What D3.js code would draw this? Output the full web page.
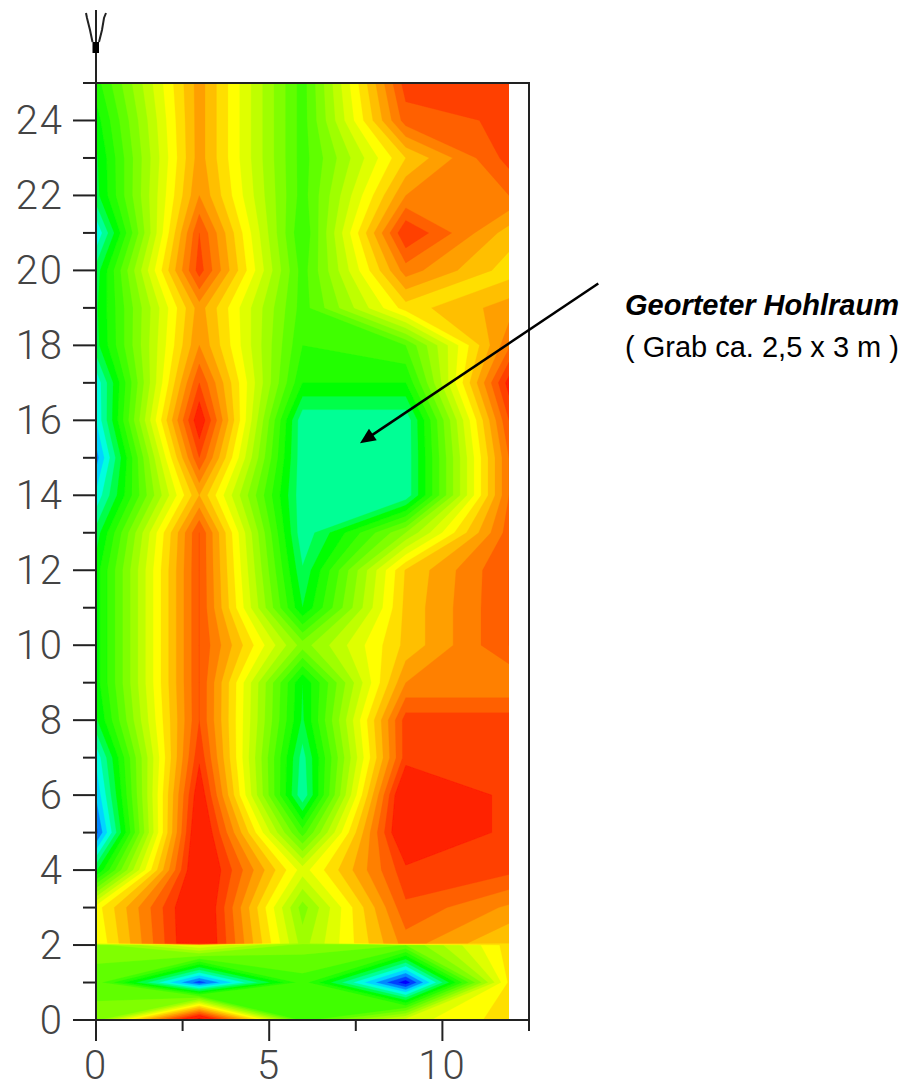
<!DOCTYPE html>
<html>
<head>
    <meta charset="UTF-8">
    <title>Georteter Hohlraum</title>
    <style>
        html, body { margin: 0; padding: 0; background: #fff; }
        svg { display: block; }
    </style>
</head>
<body>
    <svg width="912" height="1089"></svg>
    <script src="https://d3js.org/d3.v7.min.js"></script>
    <script>
// grid positions in metres
var colsX = [0, 3, 6, 9, 12];
var rowsY = [0, 1, 2, 2.05, 3, 4, 5, 6, 7, 8, 9, 10, 11, 12, 13, 14, 15, 16, 17, 18, 19, 20, 21, 22, 23, 24, 25];

// readings per profile column, bottom row first
var col0 = [20.5, 19.5, 20.5, 24, 24.5, 15.8, 10.6, 12.1, 13.2, 15.8, 16.5, 16.5, 16.5, 16.5, 15.4, 13.2, 11.5, 13, 13.2, 15.6, 15.8, 15.4, 13, 15.6, 15.8, 16.5, 17.5];
var col3 = [34, 10.4, 24, 33, 33, 33, 32.8, 32, 30.8, 30, 30, 30, 30, 30, 30, 27, 30, 32, 30, 28, 27.5, 30.5, 30, 28, 27.5, 27.5, 27.5];
var col6 = [18.5, 18.5, 20.5, 21.5, 20.5, 23.5, 18.5, 14.1, 14.5, 15.8, 16, 20.5, 16, 15.1, 14.2, 14.2, 14.2, 14.2, 17, 18, 18.5, 18.5, 18, 18.5, 18.5, 18.5, 18.5];
var col9 = [23.5, 9.3, 20, 28.5, 29.8, 30.7, 33, 33, 30.5, 30.5, 28, 26.3, 26.3, 26.1, 21, 14.2, 14.2, 14.2, 17, 19, 25.5, 28.5, 31, 28, 26, 29.5, 30.5];
var col12 = [25.5, 25.2, 25.5, 26, 27.8, 30.3, 30.6, 30.6, 30.5, 30.5, 28, 30, 30, 30, 29.5, 29, 29, 30, 31.5, 28.8, 27.5, 25.5, 26.5, 29, 30.4, 30.2, 30.2];

// axes
var yTicks = [2, 4, 6, 8, 10, 12, 14, 16, 18, 20, 22, 24, 0];
var yMinor = [1, 3, 5, 7, 9, 11, 13, 15, 17, 19, 21, 23, 25];
var xTicks = [0, 5, 10];
var xMinor = [2.5, 7.5, 12.5];

var svg = d3.select("svg");

var x = d3.scaleLinear().domain([0, 12.5]).range([96, 529]);
var xData = d3.scaleLinear().domain([0, 12]).range([96, 509]);
var y = d3.scaleLinear().domain([0, 25]).range([1020, 83]);

// band colour: levels are coarser below green, darker above red
function bandColor(t) {
    if (t > 32) return "#d80000";
    var hue = t >= 16 ? 240 - 7.5 * t : Math.min(240, 120 + 17.5 * (16 - t));
    return d3.hsl(hue, 1, 0.5).formatHex();
}

// flat value list for d3.contours
var columns = [col0, col3, col6, col9, col12];
var values = [];
rowsY.forEach(function (r, j) {
    columns.forEach(function (c) { values.push(c[j]); });
});

var thresholds = d3.range(9, 32).concat([33]);
var contours = d3.contours()
    .size([colsX.length, rowsY.length])
    .thresholds(thresholds)(values);

// d3.contours puts grid point i at i + 0.5
var colScale = d3.scaleLinear().domain(colsX.map(function (d, i) { return i + 0.5; })).range(colsX).clamp(true);
var rowScale = d3.scaleLinear().domain(rowsY.map(function (d, i) { return i + 0.5; })).range(rowsY).clamp(true);

var path = d3.geoPath(d3.geoTransform({
    point: function (px, py) {
        this.stream.point(xData(colScale(px)), y(rowScale(py)));
    }
}));

var defs = svg.append("defs");
defs.append("filter").attr("id", "soft")
    .append("feGaussianBlur").attr("stdDeviation", 0.7);
defs.append("clipPath").attr("id", "plot")
    .append("rect")
    .attr("x", xData(0)).attr("y", y(25))
    .attr("width", xData(12) - xData(0)).attr("height", y(0) - y(25));

svg.append("g").attr("clip-path", "url(#plot)")
    .append("g").attr("filter", "url(#soft)")
    .selectAll("path")
    .data(contours)
    .enter()
    .append("path")
    .attr("d", path)
    .attr("fill", function (d) { return bandColor(d.value); })
    .attr("stroke", function (d) { return bandColor(d.value); })
    .attr("stroke-width", 0.3);

// frame and axes
var axisColor = "#222";
var frame = svg.append("g").attr("stroke", axisColor).attr("stroke-width", 2).attr("fill", "none");

frame.append("path").attr("d", d3.line()([[x(0), y(25)], [x(12.5), y(25)], [x(12.5), y(0)], [x(0), y(0)]]));
frame.append("line").attr("x1", x(0)).attr("x2", x(0)).attr("y1", 10).attr("y2", y(0));

frame.selectAll(".ymajor").data(yTicks).enter().append("line")
    .attr("x1", x(0) - 23).attr("x2", x(0))
    .attr("y1", function (d) { return y(d); }).attr("y2", function (d) { return y(d); });
frame.selectAll(".yminor").data(yMinor).enter().append("line")
    .attr("x1", x(0) - 13).attr("x2", x(0))
    .attr("y1", function (d) { return y(d); }).attr("y2", function (d) { return y(d); });
frame.selectAll(".xmajor").data(xTicks).enter().append("line")
    .attr("x1", function (d) { return x(d); }).attr("x2", function (d) { return x(d); })
    .attr("y1", y(0)).attr("y2", y(0) + 21);
frame.selectAll(".xminor").data(xMinor).enter().append("line")
    .attr("x1", function (d) { return x(d); }).attr("x2", function (d) { return x(d); })
    .attr("y1", y(0)).attr("y2", y(0) + 11);

// antenna symbol on top of the y axis
var antenna = svg.append("g");
antenna.append("rect").attr("x", 92.5).attr("y", 42).attr("width", 6.5).attr("height", 11).attr("fill", "#000");
antenna.append("path")
    .attr("d", "M92.5 42 L90 30 L87 18 L86 13 M99 42 L102 30 L104 18 L106 13")
    .attr("fill", "none").attr("stroke", axisColor).attr("stroke-width", 2);

// tick labels
var tickFont = "Roboto, sans-serif";
svg.selectAll(".ylabel").data(yTicks).enter().append("text")
    .attr("x", x(0) - 32)
    .attr("y", function (d) { return y(d) + 14; })
    .attr("text-anchor", "end")
    .attr("font-family", tickFont).attr("font-weight", 300).attr("font-size", 40)
    .attr("letter-spacing", 2)
    .attr("fill", "#444")
    .text(function (d) { return d; });
svg.selectAll(".xlabel").data(xTicks).enter().append("text")
    .attr("x", function (d) { return x(d); })
    .attr("y", 1079)
    .attr("text-anchor", "middle")
    .attr("font-family", tickFont).attr("font-weight", 300).attr("font-size", 40)
    .attr("letter-spacing", 2)
    .attr("fill", "#444")
    .text(function (d) { return d; });

// annotation
var tip = [x(7.62), y(15.39)];
var tail = [x(14.5), y(19.65)];
var ang = Math.atan2(tail[1] - tip[1], tail[0] - tip[0]);
svg.append("line")
    .attr("x1", tail[0]).attr("y1", tail[1])
    .attr("x2", tip[0] + 10 * Math.cos(ang)).attr("y2", tip[1] + 10 * Math.sin(ang))
    .attr("stroke", "#000").attr("stroke-width", 2.5);
svg.append("path")
    .attr("d", d3.line()([
        tip,
        [tip[0] + 17 * Math.cos(ang - 0.42), tip[1] + 17 * Math.sin(ang - 0.42)],
        [tip[0] + 17 * Math.cos(ang + 0.42), tip[1] + 17 * Math.sin(ang + 0.42)]
    ]) + "Z")
    .attr("fill", "#000");

svg.append("text").attr("x", 625).attr("y", 315)
    .attr("font-family", "'Liberation Sans', Arial, sans-serif")
    .attr("font-weight", "bold").attr("font-style", "italic").attr("font-size", 29)
    .attr("fill", "#000")
    .text("Georteter Hohlraum");
svg.append("text").attr("x", 625).attr("y", 357)
    .attr("font-family", "'Liberation Sans', Arial, sans-serif")
    .attr("font-size", 29)
    .attr("fill", "#000")
    .text("( Grab ca. 2,5 x 3 m )");
    </script>
</body>
</html>
